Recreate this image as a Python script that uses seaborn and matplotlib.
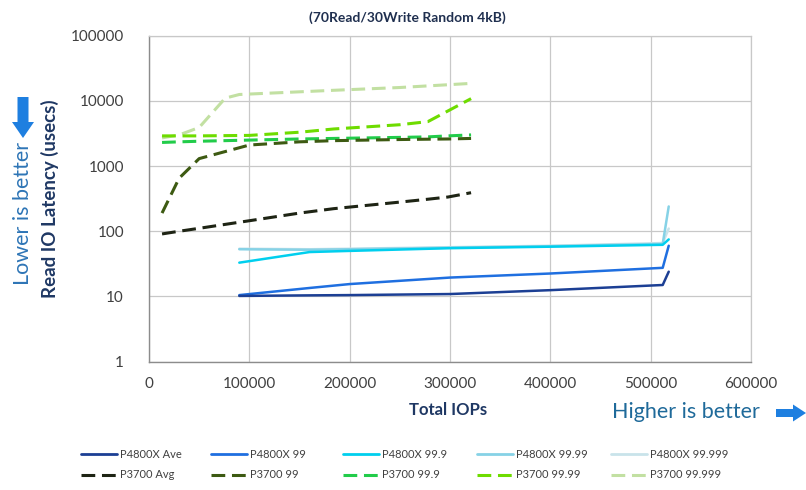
import matplotlib
matplotlib.use("Agg")
import matplotlib.pyplot as plt
import seaborn as sns
from matplotlib.patches import FancyArrow
from matplotlib.lines import Line2D
from matplotlib.ticker import FixedLocator, FixedFormatter, NullLocator

# ---------------- data ----------------
title = "(70Read/30Write Random 4kB)"
x_label = "Total IOPs"
y_label = "Read IO Latency (usecs)"
lower_text = "Lower is better"
higher_text = "Higher is better"

x_ticks = [0, 100000, 200000, 300000, 400000, 500000, 600000]
x_tick_labels = ["0", "100000", "200000", "300000", "400000", "500000", "600000"]
y_ticks = [1, 10, 100, 1000, 10000, 100000]
y_tick_labels = ["1", "10", "100", "1000", "10000", "100000"]

p4800x_labels = ["P4800X Ave", "P4800X 99", "P4800X 99.9", "P4800X 99.99", "P4800X 99.999"]
p3700_labels = ["P3700 Avg", "P3700 99", "P3700 99.9", "P3700 99.99", "P3700 99.999"]

p4800x_x = [90000, 160000, 200000, 300000, 400000, 512000, 518000]
p4800x_ave = [10.2, 10.4, 10.5, 10.9, 12.5, 15.0, 24]
p4800x_99 = [10.5, 13.5, 15.5, 19.5, 22.5, 27.5, 60]
p4800x_999 = [33, 48, 50, 55, 58, 62, 75]
p4800x_9999 = [53, 52, 53, 56, 59, 64, 240]
p4800x_99999 = [54, 53, 54, 57, 60, 66, 110]

p3700_x = [13000, 30000, 50000, 100000, 150000, 184000, 250000, 278000, 298000, 321000]
p3700_avg = [91, 100, 111, 145, 190, 222, 280, 310, 335, 390]
p3700_99 = [190, 650, 1300, 2100, 2350, 2450, 2550, 2580, 2600, 2650]
p3700_999 = [2300, 2350, 2400, 2500, 2600, 2650, 2750, 2800, 2900, 3000]
p3700_9999 = [2900, 2900, 2900, 2950, 3300, 3700, 4300, 4800, 7000, 10800]
p3700_99999_x = [13000, 30000, 50000, 76000, 90000, 184000, 250000, 321000]
p3700_99999 = [2700, 3000, 3900, 11000, 12500, 14500, 16000, 18500]

# ---------------- style ----------------
p4800x_colors = ["#1c3f94", "#1f6fe0", "#00cfee", "#86d2e6", "#c9e3ea"]
p3700_colors = ["#1e2414", "#3d5a12", "#22cc4a", "#6edc00", "#c2e0a2"]

sns.set_theme(style="white")
plt.rcParams["font.family"] = ["Lato", "DejaVu Sans"]

fig = plt.figure(figsize=(8.06, 4.90), dpi=100)
ax = fig.add_axes([149 / 806, 1 - 361.7 / 490, (751 - 149) / 806, (361.7 - 35.6) / 490])

p4800x_series = [
    (p4800x_x, p4800x_ave), (p4800x_x, p4800x_99), (p4800x_x, p4800x_999),
    (p4800x_x, p4800x_9999), (p4800x_x, p4800x_99999),
]
p3700_series = [
    (p3700_x, p3700_avg), (p3700_x, p3700_99), (p3700_x, p3700_999),
    (p3700_x, p3700_9999), (p3700_99999_x, p3700_99999),
]

dash = (0, (4.5, 2.2))
for (xs, ys), c in reversed(list(zip(p3700_series, p3700_colors))):
    sns.lineplot(x=xs, y=ys, ax=ax, color=c, linewidth=2.2, linestyle=dash, sort=False)
for (xs, ys), c in reversed(list(zip(p4800x_series, p4800x_colors))):
    sns.lineplot(x=xs, y=ys, ax=ax, color=c, linewidth=1.8, linestyle="-", sort=False)

ax.set_yscale("log")
ax.set_xlim(0, 600000)
ax.set_ylim(1, 100000)
ax.xaxis.set_major_locator(FixedLocator(x_ticks))
ax.xaxis.set_major_formatter(FixedFormatter(x_tick_labels))
ax.yaxis.set_major_locator(FixedLocator(y_ticks))
ax.yaxis.set_major_formatter(FixedFormatter(y_tick_labels))
ax.yaxis.set_minor_locator(NullLocator())
ax.xaxis.set_minor_locator(NullLocator())
ax.grid(True, which="major", color="#c8c8c8", linewidth=0.9)
for s in ["left", "bottom"]:
    ax.spines[s].set_color("#8c8c8c")
    ax.spines[s].set_linewidth(1.0)
for s in ["top", "right"]:
    ax.spines[s].set_color("#c8c8c8")
    ax.spines[s].set_linewidth(0.9)
ax.tick_params(axis="both", which="major", length=4, width=0.9, color="#8c8c8c",
               labelsize=11, labelcolor="#404040", direction="out")
ax.tick_params(axis="y", pad=14)
ax.tick_params(axis="x", pad=7)
ax.set_xlabel("")
ax.set_ylabel("")

# texts
fig.text(407 / 806, 1 - 18 / 490, title, ha="center", va="center",
         fontsize=10, fontweight="bold", color="#1f2f4f")
fig.text(50 / 806, 1 - 199 / 490, y_label, ha="center", va="center", rotation=90,
         fontsize=13.5, fontweight="bold", color="#1f3864")
fig.text(23 / 806, 1 - 213 / 490, lower_text, ha="center", va="center", rotation=90,
         fontsize=15.5, color="#2e75b6")
fig.text(448 / 806, 1 - 410 / 490, x_label, ha="center", va="center",
         fontsize=12, fontweight="bold", color="#1f3864")
fig.text(612 / 806, 1 - 412 / 490, higher_text, ha="left", va="center",
         fontsize=15.5, color="#1f6a9a")

arrow_color = "#1e7fe0"
fig.add_artist(FancyArrow(0.23, 3.93, 0, -0.41, width=0.11, head_width=0.22, head_length=0.16,
                          length_includes_head=True, transform=fig.dpi_scale_trans,
                          color=arrow_color, lw=0))
fig.add_artist(FancyArrow(7.76, 0.77, 0.30, 0, width=0.08, head_width=0.17, head_length=0.13,
                          length_includes_head=True, transform=fig.dpi_scale_trans,
                          color=arrow_color, lw=0))

# legend: one column per percentile, row 1 P4800X, row 2 P3700
legend_x = [81, 211, 343, 477, 611]
for i in range(5):
    h = [Line2D([], [], color=p4800x_colors[i], linewidth=2.0, linestyle="-"),
         Line2D([], [], color=p3700_colors[i], linewidth=2.2, linestyle=dash)]
    lab = [p4800x_labels[i], p3700_labels[i]]
    leg = fig.legend(h, lab, ncol=1, loc="upper left",
                     bbox_to_anchor=(legend_x[i] / 806, 1 - 449 / 490), frameon=False,
                     prop={"size": 8}, borderpad=0, borderaxespad=0,
                     handlelength=3.2, handletextpad=0.3, labelspacing=0.85)
    for t in leg.get_texts():
        t.set_color("#404040")

fig.savefig("out.png", dpi=100)
